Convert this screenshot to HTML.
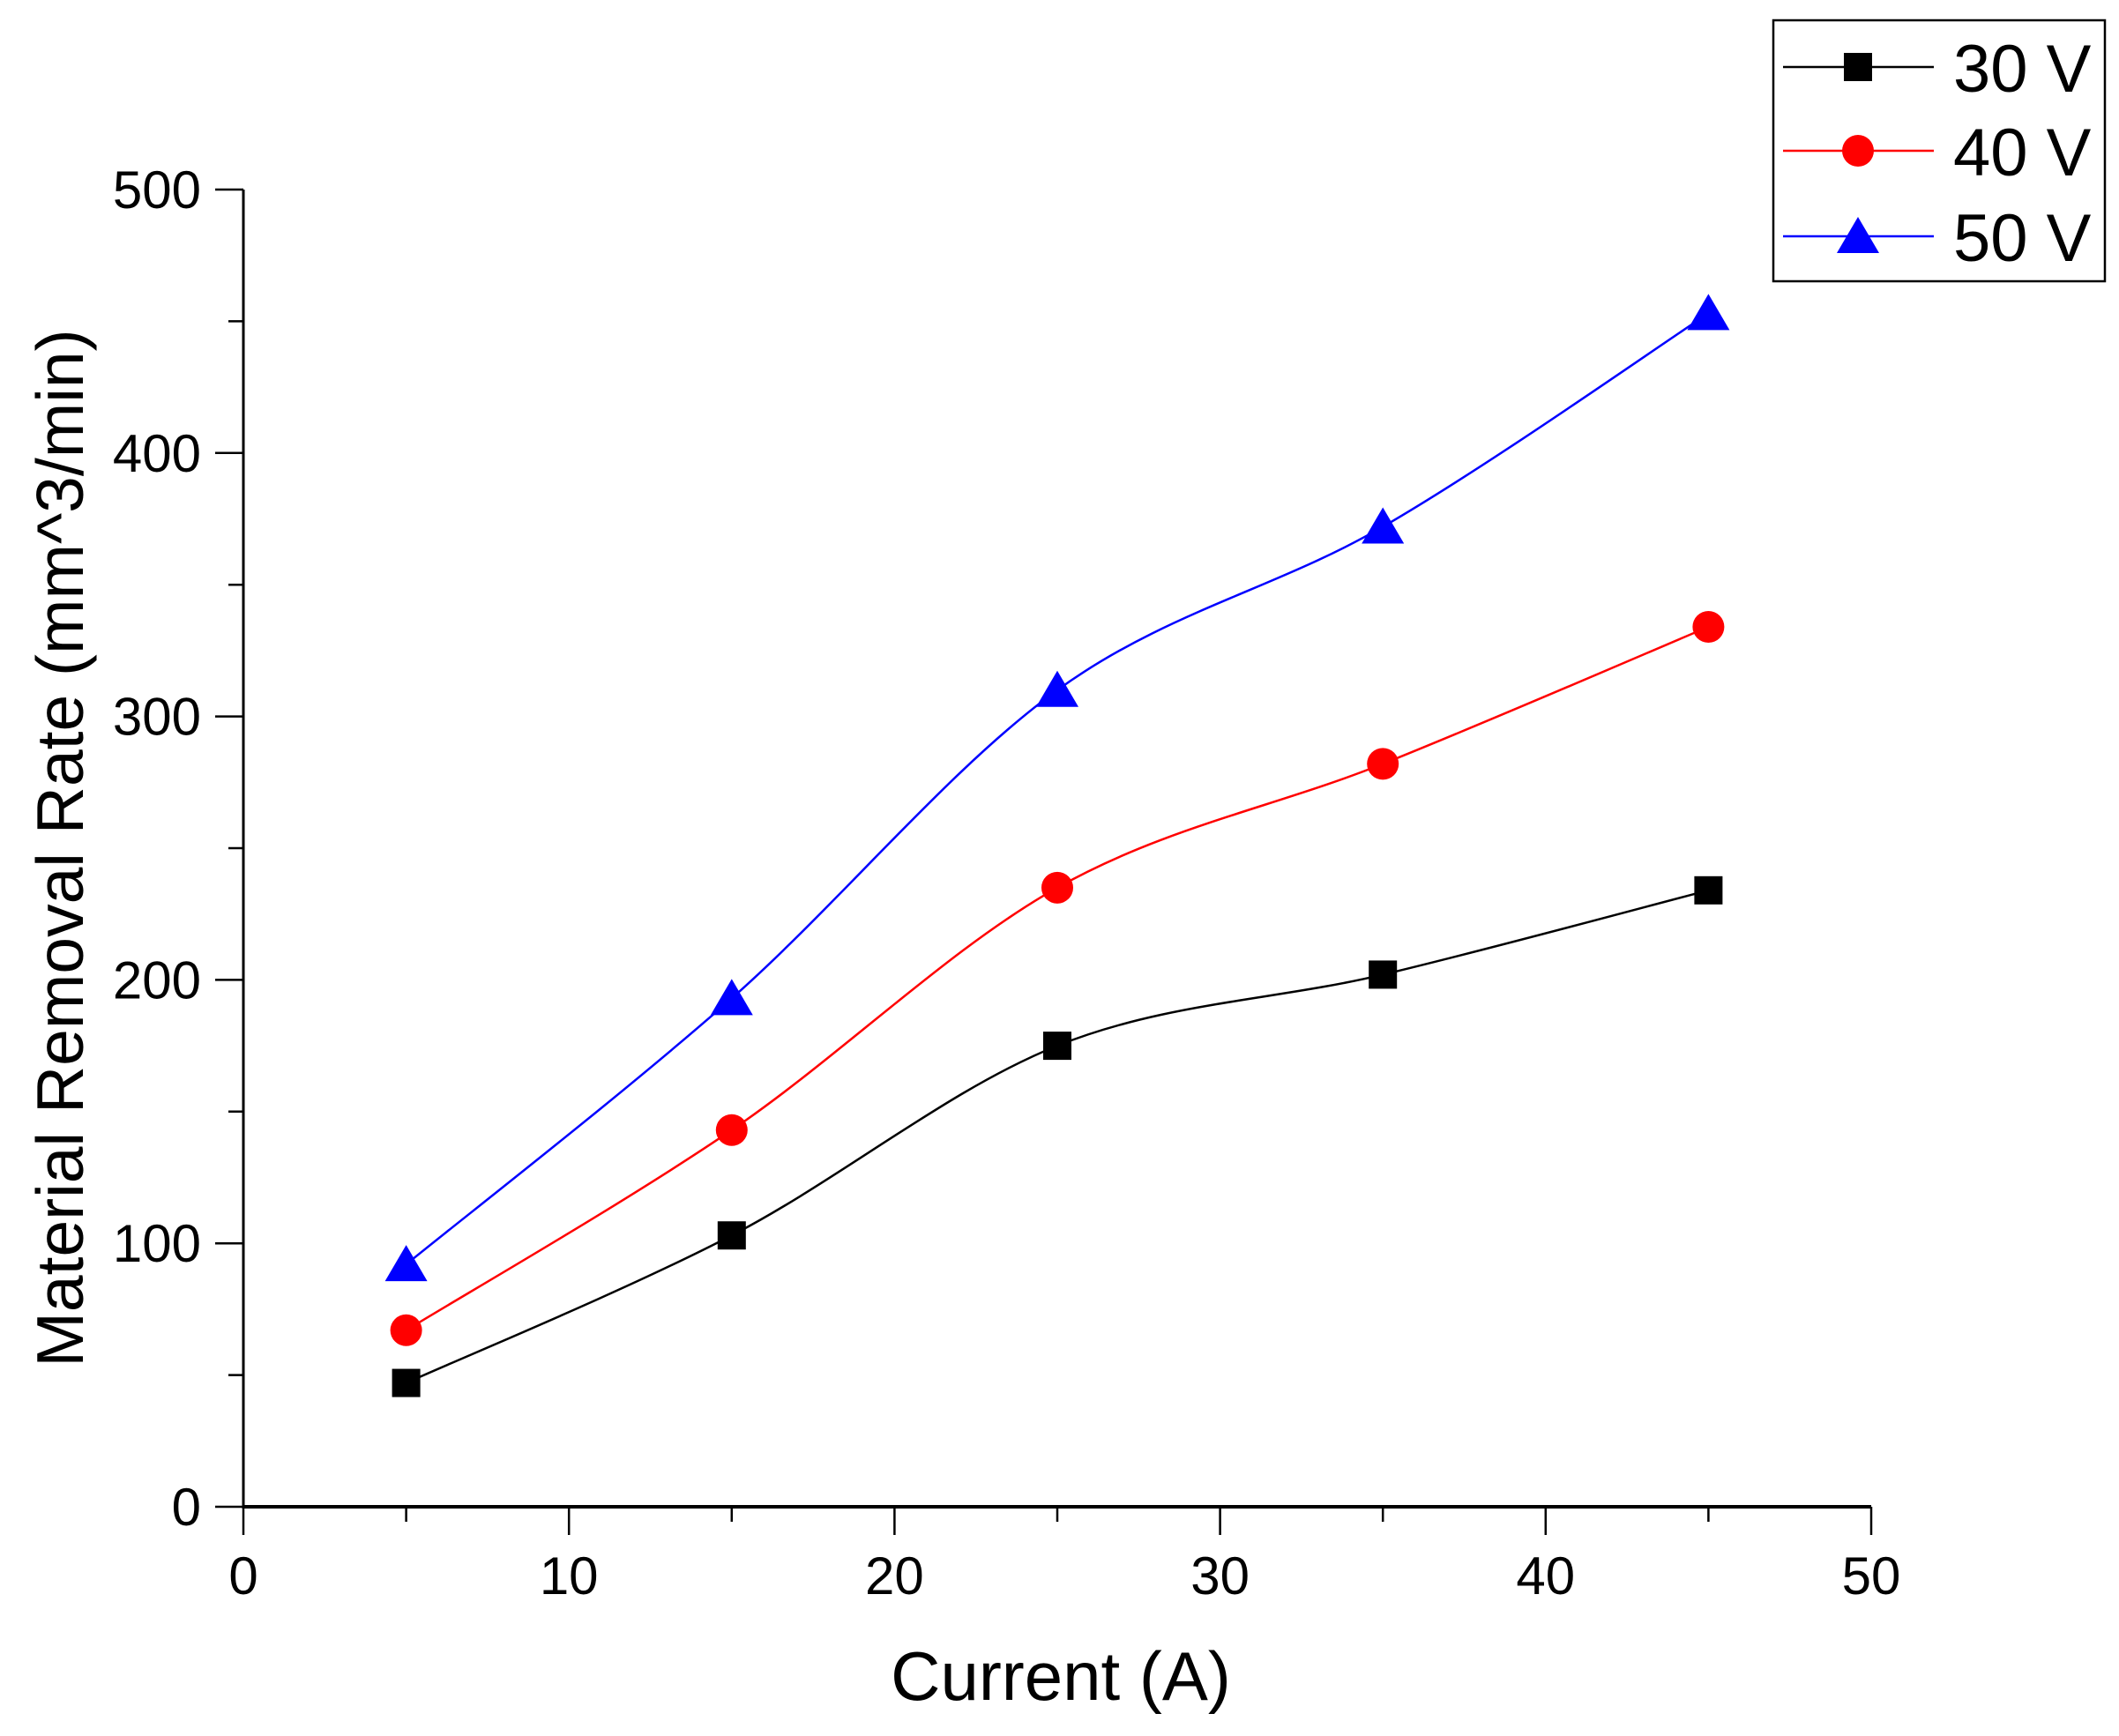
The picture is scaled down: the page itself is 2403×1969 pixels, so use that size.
<!DOCTYPE html>
<html><head><meta charset="utf-8"><style>
html,body{margin:0;padding:0;background:#fff}
svg text{font-family:"Liberation Sans",Arial,sans-serif}
</style></head><body>
<svg id="chart" width="2403" height="1964" viewBox="0 0 2403 1964" xmlns="http://www.w3.org/2000/svg">
<g id="axes"></g><g id="series"></g><g id="legend"></g>
</svg>
<script>
const categories = [5, 15, 25, 35, 45];
const series30 = [47, 103, 175, 202, 234];
const series40 = [67, 143, 235, 282, 334];
const series50 = [92, 193, 310, 372, 453];
const xTicks = [0, 10, 20, 30, 40, 50];
const yTicks = [0, 100, 200, 300, 400, 500];
const seriesNames = ["30 V", "40 V", "50 V"];

const NS = "http://www.w3.org/2000/svg";
const X0 = 276, X1 = 2122, Y0 = 1709, Y1 = 215;
const xs = v => X0 + (v - 0) / 50 * (X1 - X0);
const ys = v => Y0 - (v - 0) / 500 * (Y0 - Y1);
function mk(tag, attrs, parent, text) {
  const e = document.createElementNS(NS, tag);
  for (const k in attrs) e.setAttribute(k, attrs[k]);
  if (text !== undefined) e.textContent = text;
  parent.appendChild(e);
  return e;
}
const axes = document.getElementById('axes');
const ser = document.getElementById('series');
const leg = document.getElementById('legend');

let e = mk('line', {x1: X0, y1: Y0, x2: X1, y2: Y0, stroke: '#000', 'stroke-width': 4}, axes);


e = mk('line', {x1: X0, y1: Y0 + 2, x2: X0, y2: Y1, stroke: '#000', 'stroke-width': 3}, axes);



for (let v = 0; v <= 50; v += 5) {
  const major = v % 10 === 0;
  e = mk('line', {x1: xs(v), y1: Y0, x2: xs(v), y2: Y0 + (major ? 32 : 17), stroke: '#000', 'stroke-width': 2.5}, axes);
  
  
}
xTicks.forEach(v => {
  e = mk('text', {x: xs(v), y: 1808, 'font-size': 60, 'text-anchor': 'middle'}, axes, String(v));
  
  
});
for (let v = 0; v <= 500; v += 50) {
  const major = v % 100 === 0;
  e = mk('line', {x1: X0, y1: ys(v), x2: X0 - (major ? 32 : 17), y2: ys(v), stroke: '#000', 'stroke-width': 2.5}, axes);
  
  
}
yTicks.forEach(v => {
  e = mk('text', {x: 228, y: ys(v) + 21, 'font-size': 60, 'text-anchor': 'end'}, axes, String(v));
  
  
});
e = mk('text', {x: 1203, y: 1928, 'font-size': 78, 'text-anchor': 'middle'}, axes, 'Current (A)');


e = mk('text', {x: 0, y: 0, 'font-size': 75, 'text-anchor': 'middle', transform: 'translate(94,962) rotate(-90)'}, axes, 'Material Removal Rate (mm^3/min)');



function splinePath(pts) {
  let d = `M${pts[0][0]},${pts[0][1]}`;
  for (let i = 0; i < pts.length - 1; i++) {
    const p0 = pts[i - 1] || pts[i], p1 = pts[i], p2 = pts[i + 1], p3 = pts[i + 2] || p2;
    const c1 = [p1[0] + (p2[0] - p0[0]) / 6, p1[1] + (p2[1] - p0[1]) / 6];
    const c2 = [p2[0] - (p3[0] - p1[0]) / 6, p2[1] - (p3[1] - p1[1]) / 6];
    d += ` C${c1[0]},${c1[1]} ${c2[0]},${c2[1]} ${p2[0]},${p2[1]}`;
  }
  return d;
}
function marker(kind, cx, cy, color, parent) {
  let m;
  if (kind === 'square') m = mk('rect', {x: cx - 16, y: cy - 16, width: 32, height: 32, fill: color}, parent);
  else if (kind === 'circle') m = mk('circle', {cx: cx, cy: cy, r: 18, fill: color}, parent);
  else m = mk('polygon', {points: `${cx},${cy - 22} ${cx + 24},${cy + 19} ${cx - 24},${cy + 19}`, fill: color}, parent);
  return m;
}
const defs = [
  {vals: series30, color: '#000', kind: 'square', name: 'series-30v'},
  {vals: series40, color: '#ff0000', kind: 'circle', name: 'series-40v'},
  {vals: series50, color: '#0000ff', kind: 'triangle', name: 'series-50v'}
];
defs.forEach((s, si) => {
  const g = mk('g', {}, ser);
  
  
  const pts = categories.map((c, i) => [xs(c), ys(s.vals[i])]);
  const p = mk('path', {d: splinePath(pts), fill: 'none', stroke: s.color, 'stroke-width': 2.5}, g);
  
  
  pts.forEach(pt => {
    const m = marker(s.kind, pt[0], pt[1], s.color, g);
    
    
  });
  const ly = [76, 171, 268][si];
  const lg = mk('g', {}, leg);
  
  
  mk('line', {x1: 2022, y1: ly, x2: 2193, y2: ly, stroke: s.color, 'stroke-width': 2.5}, lg);
  marker(s.kind, 2107, ly, s.color, lg);
  mk('text', {x: 2215, y: ly + 28, 'font-size': 76}, lg, seriesNames[si]);
});
e = mk('rect', {x: 2011, y: 23, width: 376, height: 296, fill: 'none', stroke: '#000', 'stroke-width': 2.5}, leg);


</script>
</body></html>
